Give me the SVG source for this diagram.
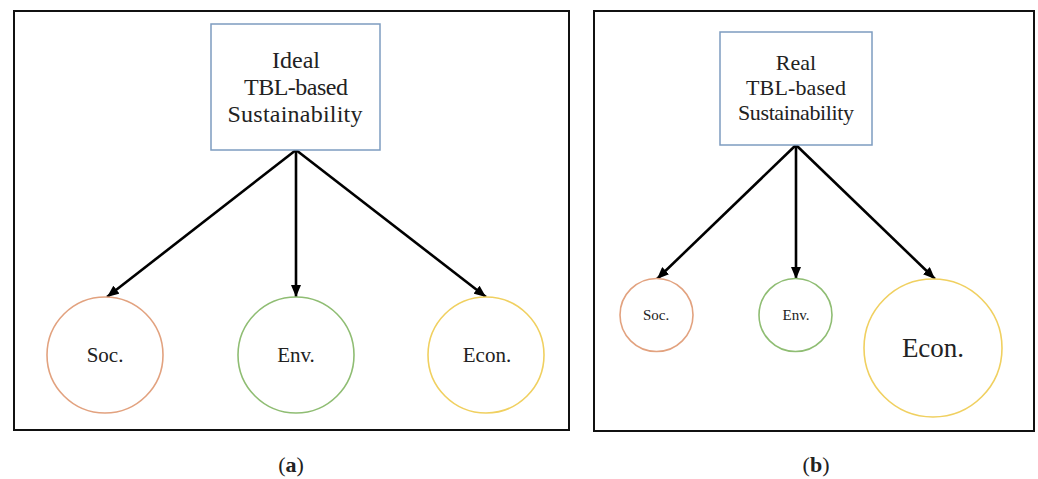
<svg xmlns="http://www.w3.org/2000/svg" width="1038" height="479" viewBox="0 0 1038 479">
<defs>
<style>
.frame{fill:none;stroke:#111;stroke-width:2}
.box{fill:#fff;stroke:#7d9cc0;stroke-width:1.5}
.t{font-family:"Liberation Serif","DejaVu Serif",serif;fill:#222;text-anchor:middle}
.arrow{stroke:#000;stroke-width:2.6;fill:none;marker-end:url(#ah)}
.soc{fill:#fff;stroke:#e2a27f;stroke-width:1.6}
.env{fill:#fff;stroke:#8fbd73;stroke-width:1.6}
.eco{fill:#fff;stroke:#f0d060;stroke-width:1.6}
</style>
<marker id="ah" markerUnits="userSpaceOnUse" markerWidth="12" markerHeight="10" refX="12" refY="5" orient="auto">
<path d="M0,0 L12,5 L0,10 z" fill="#000"/>
</marker>
</defs>
<rect width="1038" height="479" fill="#fff"/>
<rect class="frame" x="14" y="11" width="555" height="419"/>
<rect class="frame" x="594" y="11" width="440" height="420"/>
<g id="connectors">
<line class="arrow" x1="296" y1="150" x2="107" y2="297"/>
<line class="arrow" x1="296" y1="150" x2="296" y2="297"/>
<line class="arrow" x1="296" y1="150" x2="486" y2="297"/>
<line class="arrow" x1="796" y1="145" x2="657" y2="279"/>
<line class="arrow" x1="796" y1="145" x2="796" y2="279"/>
<line class="arrow" x1="796" y1="145" x2="935" y2="279"/>
</g>
<g id="ideal">
<rect class="box" x="211" y="24" width="169" height="126"/>
<text class="t" font-size="24" x="296" y="68">Ideal</text>
<text class="t" font-size="24" x="296" y="95" textLength="104">TBL-based</text>
<text class="t" font-size="24" x="295" y="122" textLength="135">Sustainability</text>
</g>
<g id="real">
<rect class="box" x="720" y="32" width="152" height="113"/>
<text class="t" font-size="22" x="796" y="70">Real</text>
<text class="t" font-size="22" x="796" y="95" textLength="100">TBL-based</text>
<text class="t" font-size="22" x="796" y="120" textLength="116">Sustainability</text>
</g>
<g id="soc-a"><circle class="soc" cx="105" cy="355" r="58"/><text class="t" font-size="21" x="105" y="362">Soc.</text></g>
<g id="env-a"><circle class="env" cx="296" cy="355" r="58"/><text class="t" font-size="21" x="296" y="362">Env.</text></g>
<g id="econ-a"><circle class="eco" cx="486" cy="355" r="58"/><text class="t" font-size="21" x="487" y="362">Econ.</text></g>
<g id="soc-b"><circle class="soc" cx="656.5" cy="315" r="36.5"/><text class="t" font-size="15" x="656" y="320">Soc.</text></g>
<g id="env-b"><circle class="env" cx="795.5" cy="315" r="36.5"/><text class="t" font-size="15" x="796" y="320">Env.</text></g>
<g id="econ-b"><circle class="eco" cx="933" cy="348" r="69"/><text class="t" font-size="27" x="933" y="357">Econ.</text></g>
<text class="t" font-size="22" x="291" y="472">(<tspan font-weight="bold">a</tspan>)</text>
<text class="t" font-size="22" x="816" y="472">(<tspan font-weight="bold">b</tspan>)</text>
</svg>
